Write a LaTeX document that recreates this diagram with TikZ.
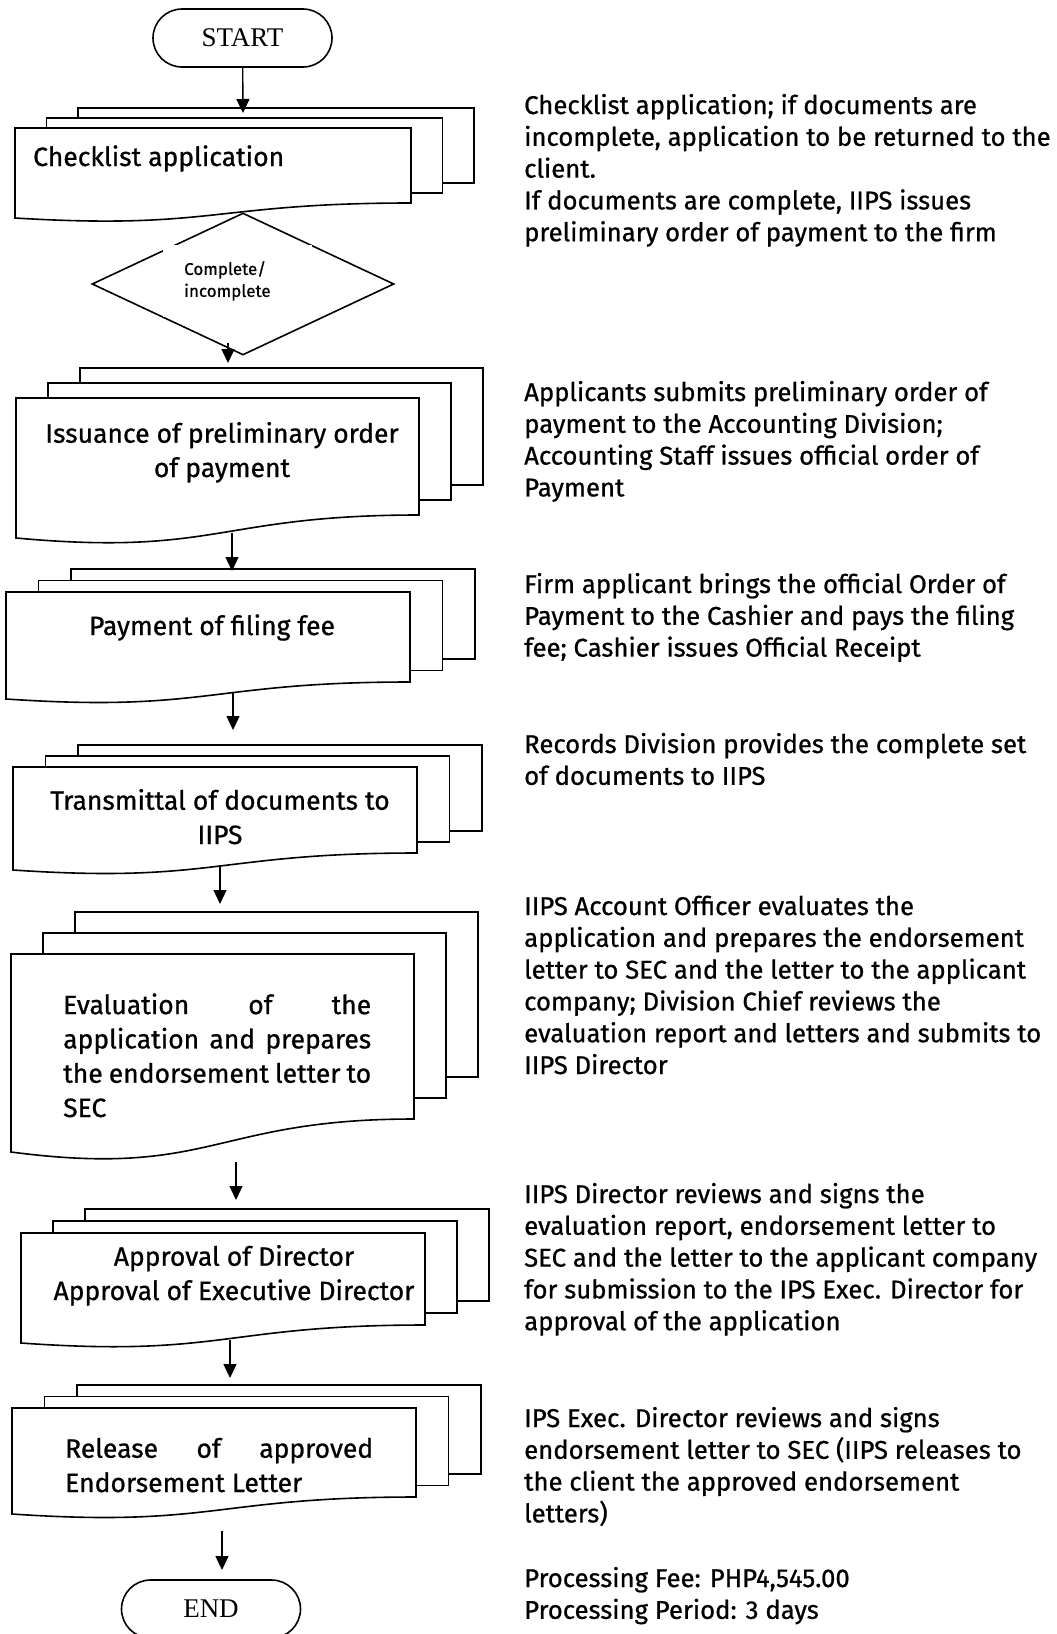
\documentclass[tikz,border=0pt]{standalone}
\usepackage{fontspec}
\setmainfont{Fira Sans}[FakeBold=0.8]
\newfontfamily\termfont{Liberation Serif}
\usetikzlibrary{shapes.geometric,arrows.meta}

% stack of three documents: left, top, width, height, wave, x step, y step
\newcommand{\mdoc}[7]{%
  \draw[doc] ({#1+2*#6},{#2-2*#7}) rectangle ++(#3,#4);
  \draw[doc] ({#1+#6},{#2-#7}) rectangle ++(#3,#4);
  \draw[doc] (#1,#2) -- ++(#3,0) -- ++(0,#4)
    .. controls ({#1+#3/2},{#2+#4}) and ({#1+#3/2},{#2+#4+1.8*#5}) .. (#1,{#2+#4+#5}) -- cycle;
}

\begin{document}
\begin{tikzpicture}[x=1pt,y=-1pt,
  doc/.style={draw, line width=1.6pt, fill=white},
  term/.style={draw, line width=1.6pt, rounded corners=29pt, minimum width=179pt,
    minimum height=58pt, font=\termfont\fontsize{27}{32}\selectfont},
  decision/.style={draw, diamond, line width=1.6pt, minimum width=302pt,
    minimum height=142pt, inner sep=0pt, fill=white},
  dtext/.style={fill=white, inner xsep=21pt, inner ysep=16pt, text width=107pt,
    align=left, font=\fontsize{17}{22}\selectfont},
  boxtext/.style={inner sep=0pt, align=center, font=\fontsize{26.5}{34.3}\selectfont},
  note/.style={inner sep=0pt, align=left, anchor=base west, font=\fontsize{25.7}{31.8}\selectfont},
  arr/.style={line width=1.4pt, -{Triangle[width=13pt,length=14pt]}}]
\useasboundingbox (0,0) rectangle (1057,1634);
\clip (0,0) rectangle (1057,1634);

%STACKS
\mdoc{15}{128}{396}{75}{15}{31.5}{10}
\mdoc{16}{398}{403}{117}{23}{32}{15}
\mdoc{6}{592}{404}{90}{17}{32.5}{11.5}
\mdoc{13}{767}{404}{86}{17}{32.5}{11}
\mdoc{11}{954}{403}{165}{33}{32}{21}
\mdoc{21}{1233}{404}{92}{18}{32}{12}
\mdoc{12}{1408}{404}{89}{17}{32.5}{11.5}

% base = last line
\node[boxtext, anchor=base west] (chk) at (33,166) {Checklist application};
\node[boxtext, anchor=base] (iss) at (222,477) {Issuance of preliminary order\\of payment};
\node[boxtext, anchor=base] (pay) at (212,635) {Payment of filing fee};
\node[boxtext, anchor=base] (trn) at (220,844) {Transmittal of documents to\\IIPS};
\node[boxtext, align=left, anchor=base west] (evl) at (63,1117)
  {\makebox[308pt][s]{Evaluation of the}\\\makebox[308pt][s]{application and prepares}\\
   \makebox[308pt][s]{the endorsement letter to}\\SEC};
\node[boxtext, anchor=base] (apr) at (234,1300) {Approval of Director\\Approval of Executive Director};
\node[boxtext, align=left, anchor=base west] (rel) at (65,1492)
  {\makebox[308pt][s]{Release of approved}\\Endorsement Letter};

%START, END and the check
\node[term] (start) at (242.5,38) {START};
\node[term] (end) at (211,1609) {END};
\node[decision] (dec) at (243,284) {};
\node[dtext, anchor=north west] (dec-t) at (163,245) {Complete/\\incomplete};

%ARROWS
\coordinate (chk-in) at (243,113);
\coordinate (dec-out) at (228,343);
\coordinate (iss-in) at (228,363);
\coordinate (iss-out) at (232,533);
\coordinate (pay-in) at (232,571);
\coordinate (pay-out) at (233,693);
\coordinate (trn-in) at (233,730);
\coordinate (trn-out) at (220,865);
\coordinate (evl-in) at (220,904);
\coordinate (evl-out) at (236,1162);
\coordinate (apr-in) at (236,1200);
\coordinate (apr-out) at (230,1340);
\coordinate (rel-in) at (230,1378);
\coordinate (rel-out) at (222,1531);
\coordinate (end-in) at (222,1570);
\draw[arr] (start) -- (chk-in);
\draw[arr] (dec-out) -- (iss-in);
\draw[arr] (iss-out) -- (pay-in);
\draw[arr] (pay-out) -- (trn-in);
\draw[arr] (trn-out) -- (evl-in);
\draw[arr] (evl-out) -- (apr-in);
\draw[arr] (apr-out) -- (rel-in);
\draw[arr] (rel-out) -- (end-in);

%NOTES (placed at their last line)
\node[note] (n1) at (524,241.2) {Checklist application; if documents are\\incomplete, application to be returned to the\\client.\\If documents are complete, IIPS issues\\preliminary order of payment to the firm};
\node[note] (n2) at (524,496.4) {Applicants submits preliminary order of\\payment to the Accounting Division;\\Accounting Staff issues official order of\\Payment};
\node[note] (n3) at (524,656.6) {Firm applicant brings the official Order of\\Payment to the Cashier and pays the filing\\fee; Cashier issues Official Receipt};
\node[note] (n4) at (524,784.8) {Records Division provides the complete set\\of documents to IIPS};
\node[note] (n5) at (524,1074) {IIPS Account Officer evaluates the\\application and prepares the endorsement\\letter to SEC and the letter to the applicant\\company; Division Chief reviews the\\evaluation report and letters and submits to\\IIPS Director};
\node[note] (n6) at (524,1330.2) {IIPS Director reviews and signs the\\evaluation report, endorsement letter to\\SEC and the letter to the applicant company\\for submission to the IPS Exec. Director for\\approval of the application};
\node[note] (n7) at (524,1522.4) {IPS Exec. Director reviews and signs\\endorsement letter to SEC (IIPS releases to\\the client the approved endorsement\\letters)};
\node[note] (n8) at (524,1618.8) {Processing Fee: PHP4,545.00\\Processing Period: 3 days};
\end{tikzpicture}
\end{document}
